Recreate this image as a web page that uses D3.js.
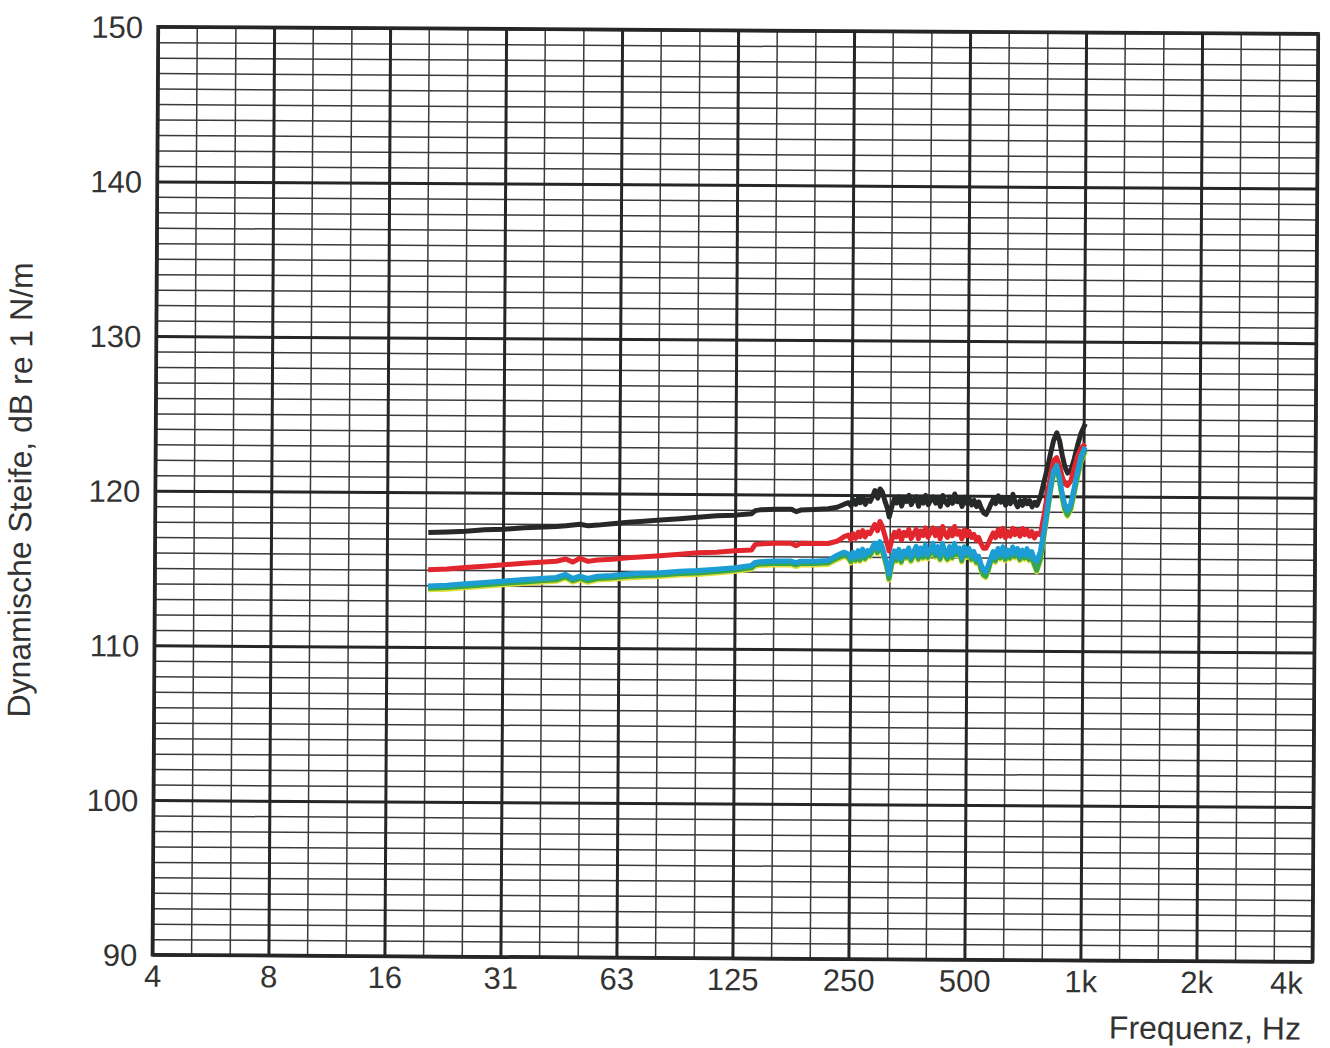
<!DOCTYPE html>
<html>
<head>
<meta charset="utf-8">
<script src="https://cdn.jsdelivr.net/npm/d3@7"></script>
<style>
  body { margin: 0; background: #fff; }
  text { font-family: "Liberation Sans", Arial, sans-serif; fill: #333; }
</style>
</head>
<body>
<div id="chart"></div>
<script>
// frequency points (Hz)
const freqs = [
  20, 22.4, 25, 28, 31.5, 35.5, 40, 43, 45.5, 47.5,
  49.5, 52, 55, 60, 66, 71, 80, 90, 100, 112,
  125, 138, 141, 145, 160, 175, 180, 185, 200, 218,
  230, 240,
  246, 250, 253, 257, 261, 264, 268, 272, 276, 280,
  284, 288, 293, 297, 301, 306, 310, 314, 319, 324,
  328, 333, 338, 343, 348, 353, 358, 363, 369, 374,
  379, 385, 390, 396, 402, 408, 414, 420, 426, 432,
  438, 445, 451, 458, 464, 471, 478, 485, 492, 499,
  506, 514, 521, 529, 536, 544, 552, 560, 568, 577,
  585, 593, 602, 611, 620, 629, 638, 647, 657, 666,
  676, 686, 696, 706, 716, 726, 737, 748, 759, 775,
  792, 808, 822, 836, 852, 866, 880, 895, 910, 928, 946, 965, 985, 1010
];

const blackVals = [
  117.4, 117.45, 117.5, 117.6, 117.65, 117.75, 117.8, 117.85, 117.9, 117.95,
  118.0, 117.9, 117.95, 118.05, 118.15, 118.2, 118.3, 118.4, 118.5, 118.6,
  118.65, 118.75, 118.95, 119.0, 119.05, 119.05, 118.9, 119.0, 119.05, 119.1,
  119.2, 119.4,
  119.5, 119.3, 119.7, 119.4, 119.8, 119.5, 119.9, 119.4, 119.7, 119.6,
  119.9, 120.3, 119.8, 120.4, 120.2, 119.6, 119.2, 118.6, 119.3, 119.8,
  119.5, 119.9, 119.3, 119.8, 119.6, 120.0, 119.4, 119.7, 119.9, 119.3,
  119.8, 119.5, 120.0, 119.4, 119.7, 119.9, 119.5, 119.8, 119.3, 120.0,
  119.6, 119.4, 119.9, 119.5, 120.1, 119.6, 119.8, 119.3, 119.9, 119.5,
  119.8, 119.4, 119.7, 119.3, 119.6, 119.2, 118.9, 118.8, 119.1, 119.5,
  119.8, 119.5, 120.0, 119.6, 119.9, 119.4, 119.8, 119.5, 120.1, 119.6,
  119.3, 119.7, 119.4, 119.8, 119.5, 119.7, 119.3, 119.6, 119.4, 120.0,
  121.0, 121.9, 122.8, 123.6, 124.1, 123.6, 122.7, 121.9, 121.5, 121.7, 122.4, 123.3, 124.1, 124.7
];

const redVals = [
  115.0, 115.05, 115.15, 115.25, 115.35, 115.45, 115.55, 115.6, 115.75, 115.55,
  115.8, 115.6, 115.7, 115.75, 115.85, 115.9, 116.0, 116.1, 116.2, 116.25,
  116.35, 116.4, 116.75, 116.8, 116.85, 116.85, 116.7, 116.85, 116.85, 116.85,
  117.0, 117.3,
  117.4, 117.1, 117.5, 117.2, 117.6, 117.3, 117.7, 117.3, 117.6, 117.5,
  117.8, 118.1, 117.7, 118.3, 118.0, 117.4, 116.9, 116.4, 117.1, 117.6,
  117.3, 117.7, 117.1, 117.6, 117.4, 117.8, 117.2, 117.5, 117.8, 117.2,
  117.7, 117.4, 117.9, 117.3, 117.6, 117.9, 117.4, 117.8, 117.2, 118.0,
  117.5, 117.3, 117.8, 117.4, 118.0, 117.5, 117.7, 117.2, 117.8, 117.4,
  117.7, 117.3, 117.5, 117.1, 117.3, 116.9, 116.6, 116.6, 116.9, 117.3,
  117.6, 117.3, 117.8, 117.4, 117.9, 117.3, 117.7, 117.4, 117.9, 117.5,
  117.8, 117.4, 117.9, 117.5, 117.8, 117.4, 117.7, 117.3, 117.6, 117.5,
  118.8, 120.2, 121.4, 122.3, 122.5, 122.0, 121.3, 120.8, 120.7, 121.0, 121.8, 122.6, 123.1, 123.4
];

const yellowVals = [
  113.7, 113.75, 113.85, 113.95, 114.05, 114.15, 114.25, 114.3, 114.5, 114.25,
  114.4, 114.25, 114.4, 114.45, 114.55, 114.6, 114.65, 114.75, 114.8, 114.9,
  115.0, 115.15, 115.35, 115.4, 115.45, 115.45, 115.35, 115.45, 115.45, 115.5,
  115.8, 116.0,
  115.9, 115.6, 116.0, 115.7, 116.1, 115.7, 116.2, 115.8, 116.1, 116.0,
  116.3, 116.6, 116.2, 116.7, 116.4, 115.8, 115.3, 114.5, 115.4, 116.1,
  115.7, 116.2, 115.6, 116.1, 115.9, 116.3, 115.7, 116.0, 116.4, 115.8,
  116.3, 115.9, 116.5, 115.9, 116.2, 116.6, 116.0, 116.4, 115.8, 116.6,
  116.1, 115.8, 116.4, 115.9, 116.6, 116.1, 116.3, 115.7, 116.4, 116.0,
  116.3, 115.8, 116.1, 115.6, 115.8, 115.2, 114.8, 114.7, 115.1, 115.7,
  116.1, 115.7, 116.3, 115.9, 116.4, 115.8, 116.2, 115.9, 116.4, 116.0,
  116.3, 115.8, 116.2, 115.9, 116.3, 115.8, 116.0, 115.5, 115.1, 115.8,
  117.4, 118.9, 120.3, 121.3, 121.7, 121.0, 120.0, 119.1, 118.7, 119.1, 120.1, 121.2, 122.2, 122.9
];

const greenVals = [
  113.8, 113.85, 113.95, 114.05, 114.15, 114.25, 114.35, 114.4, 114.6, 114.35,
  114.5, 114.35, 114.5, 114.55, 114.65, 114.7, 114.75, 114.85, 114.9, 115.0,
  115.1, 115.25, 115.45, 115.5, 115.55, 115.55, 115.45, 115.55, 115.55, 115.6,
  115.9, 116.1,
  116.0, 115.7, 116.1, 115.8, 116.2, 115.8, 116.3, 115.9, 116.2, 116.1,
  116.4, 116.7, 116.3, 116.8, 116.5, 115.9, 115.4, 114.6, 115.5, 116.2,
  115.8, 116.3, 115.7, 116.2, 116.0, 116.4, 115.8, 116.1, 116.5, 115.9,
  116.4, 116.0, 116.6, 116.0, 116.3, 116.7, 116.1, 116.5, 115.9, 116.7,
  116.2, 115.9, 116.5, 116.0, 116.7, 116.2, 116.4, 115.8, 116.5, 116.1,
  116.4, 115.9, 116.2, 115.7, 115.9, 115.3, 114.9, 114.8, 115.2, 115.8,
  116.2, 115.8, 116.4, 116.0, 116.5, 115.9, 116.3, 116.0, 116.5, 116.1,
  116.4, 115.9, 116.3, 116.0, 116.4, 115.9, 116.1, 115.6, 115.2, 115.9,
  117.5, 119.0, 120.4, 121.4, 121.8, 121.1, 120.1, 119.2, 118.8, 119.2, 120.2, 121.3, 122.3, 123.0
];

const cyanVals = [
  113.95, 114.0, 114.1, 114.2, 114.3, 114.4, 114.5, 114.55, 114.75, 114.5,
  114.65, 114.5, 114.65, 114.7, 114.8, 114.85, 114.9, 115.0, 115.05, 115.15,
  115.25, 115.4, 115.6, 115.65, 115.7, 115.7, 115.6, 115.7, 115.7, 115.75,
  116.1, 116.3,
  116.2, 115.9, 116.3, 116.0, 116.4, 116.0, 116.5, 116.1, 116.4, 116.3,
  116.6, 116.9, 116.5, 117.0, 116.7, 116.1, 115.6, 114.9, 115.8, 116.4,
  116.0, 116.5, 115.9, 116.4, 116.2, 116.6, 116.0, 116.3, 116.7, 116.1,
  116.6, 116.2, 116.8, 116.2, 116.5, 116.9, 116.3, 116.7, 116.1, 116.9,
  116.4, 116.1, 116.7, 116.2, 116.9, 116.4, 116.6, 116.0, 116.7, 116.3,
  116.6, 116.1, 116.4, 115.9, 116.1, 115.6, 115.2, 115.1, 115.5, 116.0,
  116.4, 116.0, 116.6, 116.2, 116.7, 116.1, 116.5, 116.2, 116.7, 116.3,
  116.6, 116.1, 116.5, 116.2, 116.6, 116.1, 116.4, 115.9, 115.8, 116.4,
  117.8, 119.3, 120.6, 121.6, 122.0, 121.3, 120.3, 119.5, 119.1, 119.5, 120.5, 121.6, 122.6, 123.2
];

// octave grid lines and their printed labels
const xMajor = [1000/256, 1000/128, 1000/64, 1000/32, 1000/16, 1000/8, 1000/4, 1000/2, 1000, 2000, 4000];
const xTickLabels = ['4', '8', '16', '31', '63', '125', '250', '500', '1k', '2k', '4k'];
const yMajor = [90, 100, 110, 120, 130, 140, 150];

const series = [
  {vals: blackVals, color: '#262928'},
  {vals: redVals, color: '#e2262d'},
  {vals: yellowVals, color: '#e4dc3a'},
  {vals: greenVals, color: '#35a74c'},
  {vals: cyanVals, color: '#1c9ed4'}
];

const width = 1330, height = 1048;
const W = 1160, H = 928;
const plotLeft = 155.25, plotTop = 30.25;

const x = d3.scaleLog().domain([1000/256, 4000]).range([0, W]);
const y = d3.scaleLinear().domain([90, 150]).range([H, 0]);

const svg = d3.select('#chart')
  .append('svg')
  .attr('width', width)
  .attr('height', height);

// the scanned sheet sits slightly skewed
const g = svg.append('g')
  .attr('transform', `rotate(0.35, ${plotLeft + W / 2}, ${plotTop + H / 2}) translate(${plotLeft},${plotTop})`);

// minor grid: third octaves, 1 dB
const xMinor = d3.range(-24, 7).map(k => 1000 * Math.pow(2, k / 3));
const yMinor = d3.range(90, 151);

g.append('g')
  .attr('transform', `translate(0,${H})`)
  .call(d3.axisBottom(x).tickValues(xMinor).tickSize(-H).tickFormat(''))
  .call(a => a.select('.domain').remove())
  .selectAll('line').attr('stroke', '#3a3a3a').attr('stroke-width', 1.5);

g.append('g')
  .call(d3.axisLeft(y).tickValues(yMinor).tickSize(-W).tickFormat(''))
  .call(a => a.select('.domain').remove())
  .selectAll('line').attr('stroke', '#3a3a3a').attr('stroke-width', 1.5);

// major grid with labels
const gx = g.append('g')
  .attr('transform', `translate(0,${H})`)
  .call(d3.axisBottom(x).tickValues(xMajor).tickSize(-H).tickFormat((d, i) => xTickLabels[i]));
gx.select('.domain').remove();
gx.selectAll('line').attr('stroke', '#262626').attr('stroke-width', 3);
gx.selectAll('text')
  .attr('y', 32).attr('dy', 0)
  .attr('font-size', 31)
  .attr('font-family', '"Liberation Sans", Arial, sans-serif')
  .attr('fill', '#333');
gx.selectAll('.tick').filter((d, i) => i === xMajor.length - 1)
  .select('text').attr('text-anchor', 'end').attr('x', -10);

const gy = g.append('g')
  .call(d3.axisLeft(y).tickValues(yMajor).tickSize(-W));
gy.select('.domain').remove();
gy.selectAll('line').attr('stroke', '#262626').attr('stroke-width', 3);
gy.selectAll('text')
  .attr('x', -15).attr('dy', '0.35em')
  .attr('font-size', 31)
  .attr('font-family', '"Liberation Sans", Arial, sans-serif')
  .attr('fill', '#333');

// frame
g.append('rect')
  .attr('width', W).attr('height', H)
  .attr('fill', 'none')
  .attr('stroke', '#262626')
  .attr('stroke-width', 3.5);

// curves
const line = d3.line()
  .x((d, i) => x(freqs[i]))
  .y(d => y(d));

g.selectAll('path.curve')
  .data(series)
  .enter()
  .append('path')
  .attr('class', 'curve')
  .attr('fill', 'none')
  .attr('stroke', d => d.color)
  .attr('stroke-width', 5)
  .attr('stroke-linejoin', 'round')
  .attr('d', d => line(d.vals));

// axis titles
g.append('text')
  .attr('x', W - 11)
  .attr('y', H + 78)
  .attr('text-anchor', 'end')
  .attr('font-size', 32)
  .text('Frequenz, Hz');

g.append('text')
  .attr('transform', `translate(-124,${H / 2}) rotate(-90)`)
  .attr('text-anchor', 'middle')
  .attr('font-size', 32)
  .text('Dynamische Steife, dB re 1 N/m');
</script>
</body>
</html>
